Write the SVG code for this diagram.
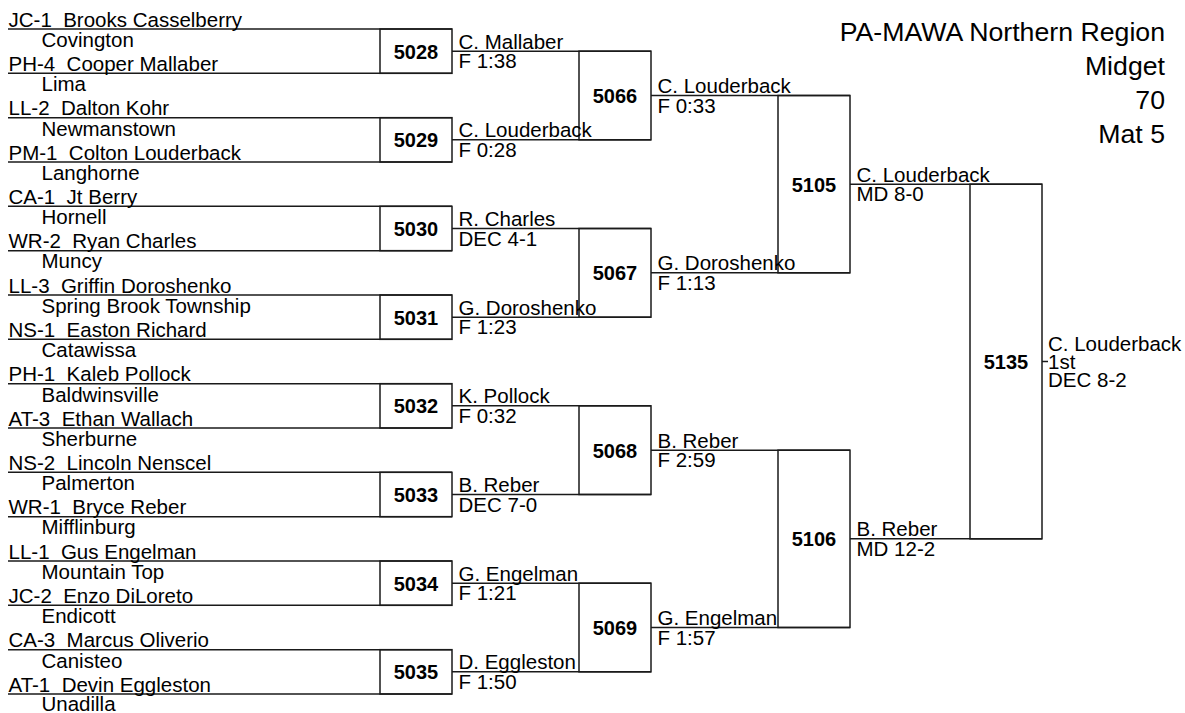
<svg xmlns="http://www.w3.org/2000/svg" width="1185" height="713" viewBox="0 0 1185 713" xml:space="preserve">
<style>
text{font-family:"Liberation Sans",Arial,sans-serif;fill:#000;white-space:pre}
.t{font-size:20.5px}
.n{font-size:20px;font-weight:bold;text-anchor:middle}
.h{font-size:26.7px;text-anchor:end}
.ln{stroke:#1a1a1a;stroke-width:1.5;fill:none}
.bx{stroke:#1a1a1a;stroke-width:1.5;fill:none}
</style>
<rect width="1185" height="713" fill="#fff"/>
<g id="title">
<text class="h" x="1165" y="41">PA-MAWA Northern Region</text>
<text class="h" x="1165" y="75">Midget</text>
<text class="h" x="1165" y="109">70</text>
<text class="h" x="1165" y="143">Mat 5</text>
</g>
<g id="m5028">
<line class="ln" x1="8" y1="29" x2="452" y2="29"/><line class="ln" x1="8" y1="73.33" x2="452" y2="73.33"/>
<rect class="bx" x="380" y="29" width="72" height="44.33"/>
<text class="n" x="416" y="58.7">5028</text>
<text class="t" x="8.5" y="26.5">JC-1  Brooks Casselberry</text><text class="t" x="41.5" y="47">Covington</text>
<text class="t" x="8.5" y="70.8">PH-4  Cooper Mallaber</text><text class="t" x="41.5" y="91">Lima</text>
</g>
<g id="m5029">
<line class="ln" x1="8" y1="117.67" x2="452" y2="117.67"/><line class="ln" x1="8" y1="162" x2="452" y2="162"/>
<rect class="bx" x="380" y="117.67" width="72" height="44.33"/>
<text class="n" x="416" y="147.3">5029</text>
<text class="t" x="8.5" y="115.2">LL-2  Dalton Kohr</text><text class="t" x="41.5" y="135.7">Newmanstown</text>
<text class="t" x="8.5" y="159.5">PM-1  Colton Louderback</text><text class="t" x="41.5" y="179.7">Langhorne</text>
</g>
<g id="m5030">
<line class="ln" x1="8" y1="206.33" x2="452" y2="206.33"/><line class="ln" x1="8" y1="250.67" x2="452" y2="250.67"/>
<rect class="bx" x="380" y="206.33" width="72" height="44.33"/>
<text class="n" x="416" y="236">5030</text>
<text class="t" x="8.5" y="203.8">CA-1  Jt Berry</text><text class="t" x="41.5" y="224.3">Hornell</text>
<text class="t" x="8.5" y="248.2">WR-2  Ryan Charles</text><text class="t" x="41.5" y="268.4">Muncy</text>
</g>
<g id="m5031">
<line class="ln" x1="8" y1="295" x2="452" y2="295"/><line class="ln" x1="8" y1="339.33" x2="452" y2="339.33"/>
<rect class="bx" x="380" y="295" width="72" height="44.33"/>
<text class="n" x="416" y="324.7">5031</text>
<text class="t" x="8.5" y="292.5">LL-3  Griffin Doroshenko</text><text class="t" x="41.5" y="313">Spring Brook Township</text>
<text class="t" x="8.5" y="336.8">NS-1  Easton Richard</text><text class="t" x="41.5" y="357">Catawissa</text>
</g>
<g id="m5032">
<line class="ln" x1="8" y1="383.67" x2="452" y2="383.67"/><line class="ln" x1="8" y1="428" x2="452" y2="428"/>
<rect class="bx" x="380" y="383.67" width="72" height="44.33"/>
<text class="n" x="416" y="413.3">5032</text>
<text class="t" x="8.5" y="381.2">PH-1  Kaleb Pollock</text><text class="t" x="41.5" y="401.7">Baldwinsville</text>
<text class="t" x="8.5" y="425.5">AT-3  Ethan Wallach</text><text class="t" x="41.5" y="445.7">Sherburne</text>
</g>
<g id="m5033">
<line class="ln" x1="8" y1="472.33" x2="452" y2="472.33"/><line class="ln" x1="8" y1="516.67" x2="452" y2="516.67"/>
<rect class="bx" x="380" y="472.33" width="72" height="44.33"/>
<text class="n" x="416" y="502">5033</text>
<text class="t" x="8.5" y="469.8">NS-2  Lincoln Nenscel</text><text class="t" x="41.5" y="490.3">Palmerton</text>
<text class="t" x="8.5" y="514.2">WR-1  Bryce Reber</text><text class="t" x="41.5" y="534.4">Mifflinburg</text>
</g>
<g id="m5034">
<line class="ln" x1="8" y1="561" x2="452" y2="561"/><line class="ln" x1="8" y1="605.33" x2="452" y2="605.33"/>
<rect class="bx" x="380" y="561" width="72" height="44.33"/>
<text class="n" x="416" y="590.7">5034</text>
<text class="t" x="8.5" y="558.5">LL-1  Gus Engelman</text><text class="t" x="41.5" y="579">Mountain Top</text>
<text class="t" x="8.5" y="602.8">JC-2  Enzo DiLoreto</text><text class="t" x="41.5" y="623">Endicott</text>
</g>
<g id="m5035">
<line class="ln" x1="8" y1="649.67" x2="452" y2="649.67"/><line class="ln" x1="8" y1="694" x2="452" y2="694"/>
<rect class="bx" x="380" y="649.67" width="72" height="44.33"/>
<text class="n" x="416" y="679.3">5035</text>
<text class="t" x="8.5" y="647.2">CA-3  Marcus Oliverio</text><text class="t" x="41.5" y="667.7">Canisteo</text>
<text class="t" x="8.5" y="691.5">AT-1  Devin Eggleston</text><text class="t" x="41.5" y="710.5">Unadilla</text>
</g>
<g id="m5066"><rect class="bx" x="579" y="51.17" width="72" height="88.67"/><text class="n" x="615" y="103">5066</text></g>
<g id="m5067"><rect class="bx" x="579" y="228.5" width="72" height="88.67"/><text class="n" x="615" y="280.3">5067</text></g>
<g id="m5068"><rect class="bx" x="579" y="405.83" width="72" height="88.67"/><text class="n" x="615" y="457.7">5068</text></g>
<g id="m5069"><rect class="bx" x="579" y="583.17" width="72" height="88.67"/><text class="n" x="615" y="635">5069</text></g>
<g id="m5105"><rect class="bx" x="778" y="95.5" width="72" height="177.33"/><text class="n" x="814" y="191.7">5105</text></g>
<g id="m5106"><rect class="bx" x="778" y="450.17" width="72" height="177.33"/><text class="n" x="814" y="546.3">5106</text></g>
<g id="m5135"><rect class="bx" x="970" y="184.17" width="72" height="354.67"/><text class="n" x="1006" y="369">5135</text></g>
<g id="connectors">
<line class="ln" x1="452" y1="51.17" x2="651" y2="51.17"/>
<line class="ln" x1="452" y1="139.83" x2="651" y2="139.83"/>
<line class="ln" x1="452" y1="228.5" x2="651" y2="228.5"/>
<line class="ln" x1="452" y1="317.17" x2="651" y2="317.17"/>
<line class="ln" x1="452" y1="405.83" x2="651" y2="405.83"/>
<line class="ln" x1="452" y1="494.5" x2="651" y2="494.5"/>
<line class="ln" x1="452" y1="583.17" x2="651" y2="583.17"/>
<line class="ln" x1="452" y1="671.83" x2="651" y2="671.83"/>
<line class="ln" x1="651" y1="95.5" x2="850" y2="95.5"/>
<line class="ln" x1="651" y1="272.83" x2="850" y2="272.83"/>
<line class="ln" x1="651" y1="450.17" x2="850" y2="450.17"/>
<line class="ln" x1="651" y1="627.5" x2="850" y2="627.5"/>
<line class="ln" x1="850" y1="184.17" x2="1042" y2="184.17"/>
<line class="ln" x1="850" y1="538.83" x2="1042" y2="538.83"/>
<line class="ln" x1="1042" y1="361.5" x2="1048" y2="361.5"/>
</g>
<g id="results">
<text class="t" x="458.5" y="48.7">C. Mallaber</text><text class="t" x="458.5" y="68.2">F 1:38</text>
<text class="t" x="458.5" y="137.3">C. Louderback</text><text class="t" x="458.5" y="156.8">F 0:28</text>
<text class="t" x="458.5" y="226">R. Charles</text><text class="t" x="458.5" y="245.5">DEC 4-1</text>
<text class="t" x="458.5" y="314.7">G. Doroshenko</text><text class="t" x="458.5" y="334.2">F 1:23</text>
<text class="t" x="458.5" y="403.3">K. Pollock</text><text class="t" x="458.5" y="422.8">F 0:32</text>
<text class="t" x="458.5" y="492">B. Reber</text><text class="t" x="458.5" y="511.5">DEC 7-0</text>
<text class="t" x="458.5" y="580.7">G. Engelman</text><text class="t" x="458.5" y="600.2">F 1:21</text>
<text class="t" x="458.5" y="669.3">D. Eggleston</text><text class="t" x="458.5" y="688.8">F 1:50</text>
<text class="t" x="657.5" y="93">C. Louderback</text><text class="t" x="657.5" y="112.5">F 0:33</text>
<text class="t" x="657.5" y="270.3">G. Doroshenko</text><text class="t" x="657.5" y="289.8">F 1:13</text>
<text class="t" x="657.5" y="447.7">B. Reber</text><text class="t" x="657.5" y="467.2">F 2:59</text>
<text class="t" x="657.5" y="625">G. Engelman</text><text class="t" x="657.5" y="644.5">F 1:57</text>
<text class="t" x="856.5" y="181.7">C. Louderback</text><text class="t" x="856.5" y="201.2">MD 8-0</text>
<text class="t" x="856.5" y="536.3">B. Reber</text><text class="t" x="856.5" y="555.8">MD 12-2</text>
<text class="t" x="1048" y="351">C. Louderback</text><text class="t" x="1048" y="369">1st</text><text class="t" x="1048" y="387">DEC 8-2</text>
</g>
</svg>
